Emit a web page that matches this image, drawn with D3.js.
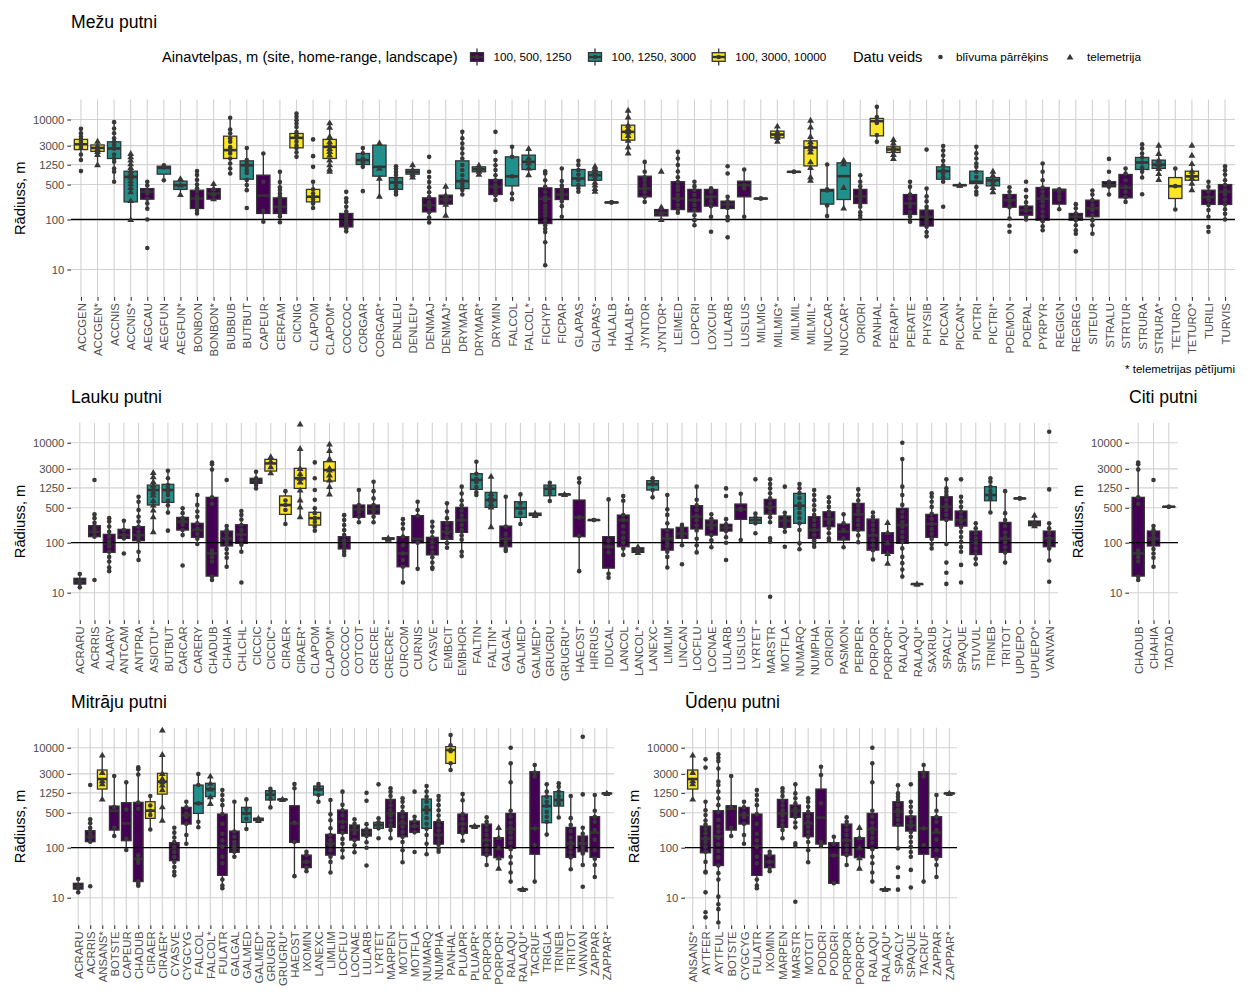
<!DOCTYPE html>
<html><head><meta charset="utf-8">
<script src="https://cdn.jsdelivr.net/npm/d3@7"></script>
<style>
body{margin:0;background:#fff}
svg{display:block}
text{font-family:"Liberation Sans",Arial,Helvetica,sans-serif}
</style>
</head><body>
<svg id="chart" width="1250" height="1000"></svg>
<script>
// ---------------- DATA ----------------
const yTicks = [10, 100, 500, 1250, 3000, 10000];
const groupLabels = ["100, 500, 1250", "100, 1250, 3000", "100, 3000, 10000"];
const typeLabels = ["blīvuma pārrēķins", "telemetrija"];

// Mežu putni
const mezuCats = ["ACCGEN","ACCGEN*","ACCNIS","ACCNIS*","AEGCAU","AEGFUN","AEGFUN*","BONBON","BONBON*","BUBBUB","BUTBUT","CAPEUR","CERFAM","CICNIG","CLAPOM","CLAPOM*","COCCOC","CORGAR","CORGAR*","DENLEU","DENLEU*","DENMAJ","DENMAJ*","DRYMAR","DRYMAR*","DRYMIN","FALCOL","FALCOL*","FICHYP","FICPAR","GLAPAS","GLAPAS*","HALALB","HALALB*","JYNTOR","JYNTOR*","LEIMED","LOPCRI","LOXCUR","LULARB","LUSLUS","MILMIG","MILMIG*","MILMIL","MILMIL*","NUCCAR","NUCCAR*","ORIORI","PANHAL","PERAPI*","PERATE","PHYSIB","PICCAN","PICCAN*","PICTRI","PICTRI*","POEMON","POEPAL","PYRPYR","REGIGN","REGREG","SITEUR","STRALU","STRTUR","STRURA","STRURA*","TETURO","TETURO*","TURILI","TURVIS"];
const mezuGroups = [2,2,1,1,0,1,1,0,0,2,1,0,0,2,2,2,0,1,1,1,1,0,0,1,1,0,1,1,0,0,1,1,0,2,0,0,0,0,0,0,0,0,2,0,2,1,1,0,2,2,0,0,1,1,1,1,0,0,0,0,0,0,0,0,1,1,2,2,0,0];
const mezuBox = [[1550,2500,3200,4000,6500],[1250,2300,2700,3100,3700],[570,1660,2630,3580,8850],[100,225,710,925,2100],[165,255,357,415,570],[610,807,1080,1165,1220],[316,400,486,585,660],[132,166,263,386,930],[255,255,330,415,525],[830,1660,2440,4640,10800],[386,640,1220,1490,2700],[90,132,300,770,2090],[88,132,179,271,900],[1790,2710,4300,5250,13200],[170,225,285,400,570],[925,1660,2840,4000,8600],[58,71,100,132,225],[1130,1260,1540,2090,2700],[293,735,1130,3070,3400],[316,400,550,690,1165],[710,807,900,1000,1250],[87,142,194,271,710],[122,203,255,307,464],[316,415,585,1490,5660],[810,900,1015,1130,1220],[245,316,450,630,1540],[255,470,730,1790,2840],[790,1000,1420,1940,2640],[12.2,83,260,430,925],[113,251,316,415,1050],[360,470,660,1000,1490],[370,610,770,900,1165],[220,220,220,220,220],[2150,3860,5660,7700,15400],[225,284,415,735,1420],[100,118,136,158,179],[136,158,263,570,2250],[77,142,244,400,570],[113,185,284,400,420],[113,166,200,233,284],[113,284,486,585,1000],[263,263,263,263,263],[3700,4300,5000,5850,7400],[900,900,900,900,900],[610,1180,2750,3740,9700],[117,203,380,400,1260],[170,251,735,1360,1540],[105,209,290,400,770],[3570,4710,9270,10500,17900],[1660,2190,2510,2840,4000],[90,126,209,316,570],[46,74,113,154,415],[570,640,925,1130,2950],[486,486,486,486,486],[316,525,567,925,2840],[360,470,610,690,925],[105,176,244,316,440],[100,122,154,185,284],[61,97,260,437,1320],[160,203,390,400,400],[52,97,113,132,203],[52,113,167,244,380],[316,450,486,570,570],[225,271,437,795,1050],[690,1000,1380,1740,3200],[630,1050,1250,1540,3070],[158,263,464,690,1050],[395,610,730,925,1320],[113,200,280,386,570],[100,200,360,500,1165]];
const mezuPts = [[6500,5300,4500,4000,3600,3300,3000,2700,2000,1550,930],[3700,3000,2600,2300,2000,1250],[8850,6600,5300,4200,3600,3100,2600,2000,1660,1430,1050,900,570],[2100,1800,1550,1300,1100,950,830,700,600,520,440,360,240,100],[570,480,380,330,260,210,165,100,27],[1220,1100,610],[660,490,316],[930,780,620,500,420,360,290,250,215,185,150,132],[525,420,330,260],[10800,6300,5300,4200,3600,2800,2440,2100,1660,1320,1050,830],[2700,1550,1300,1150,980,850,620,490,386,170],[2090,570,150,90],[900,560,440,390,330,290,250,215,180,155,132,115,88],[13200,11300,9700,8300,7100,5600,4800,4300,3600,3000,2700,2200,1790],[4000,1850,1130,570,400,330,285,250,210,170],[8600,7000,4600,3600,3100,2650,2300,1950,1550,1250,1030,925],[357,265,225,180,145,120,105,90,78,67,58],[2700,2100,1650,1400,1130,370],[3400,1060,670,293],[1165,1050,900,780,660,570,490,420,360,316],[1250,980,810,710],[1790,900,710,560,440,350,280,220,175,140,110,87],[464,307,250,203,122],[5660,4200,3300,2640,2090,1660,1230,980,770,610,520,450,390,316],[1220,1050,930,810],[5660,2250,1540,1220,980,770,610,490,420,360,306,245],[2840,1790,730,330,255],[2640,1700,1350,1080,790],[925,830,610,450,355,280,240,190,165,140,120,95,77,65,56,35,12.2],[1050,590,480,415,360,310,270,230,185,113],[1490,1230,980,790,620,490,420,360],[1165,1050,900,770,660,560,490,420,370],[220,220],[15400,11300,7700,6600,5660,4800,3860,2840,2150],[1420,900,700,600,490,415,360,284,225],[925,179,136,100],[2250,1660,1230,910,700,570,460,390,310,245,195,158,136],[570,464,390,310,244,195,155,122,97,77],[420,360,284,230,185,113,57],[1160,830,284,230,200,170,113,97,44],[1000,486,420,113],[263,263],[7400,5700,5000,4400,3700],[900,900],[9700,7100,4600,3600,3100,2600,2250,1430,1100,710,610],[1260,400,380,190,117],[1540,1300,440,170],[770,570,464,390,330,290,250,210,180,140,120,105],[17900,11200,9270,8500,4900,3570],[4000,3400,2840,2400,2000,1660],[570,450,316,263,209,180,141,113,90],[2500,415,290,230,180,154,132,113,97,84,72,56,46],[2950,2400,1900,1500,1200,960,830,700,570,180],[486,486],[2840,2100,1660,1320,1130,900,710,567,440,360,316],[925,770,610,525,440,360],[440,360,290,230,185,176,105,75,57],[570,386,284,220,180,150,115,100],[1320,900,610,437,360,290,230,185,145,115,92,73,61],[400,360,290,250,160],[203,167,132,113,97,77,61,52,23],[380,316,244,195,155,122,97,77,52],[1630,900,570,486,450,316],[1050,830,610,450,360,280,225],[3200,2640,2090,1740,1380,1100,900,690,320],[3070,2100,1540,1250,1050,830,630],[1050,464,158],[3070,1940,1320,925,770,670,530,395],[570,450,360,280,245,195,155,113,71,57],[1165,970,790,610,490,390,316,250,200,160,130,100]];

// Lauku putni
const laukuCats = ["ACRARU","ACRRIS","ALAARV","ANTCAM","ANTPRA","ASIOTU*","BUTBUT","CARCAR","CARERY","CHADUB","CHAHIA","CHLCHL","CICCIC","CICCIC*","CIRAER","CIRAER*","CLAPOM","CLAPOM*","COCCOC","COTCOT","CRECRE","CRECRE*","CURCOM","CURNIS","CYASVE","EMBCIT","EMBHOR","FALTIN","FALTIN*","GALGAL","GALMED","GALMED*","GRUGRU","GRUGRU*","HAEOST","HIRRUS","IDUCAL","LANCOL","LANCOL*","LANEXC","LIMLIM","LINCAN","LOCFLU","LOCNAE","LULARB","LUSLUS","LYRTET","MARSTR","MOTFLA","NUMARQ","NUMPHA","ORIORI","PASMON","PERPER","PORPOR","PORPOR*","RALAQU","RALAQU*","SAXRUB","SPACLY","SPAQUE","STUVUL","TRINEB","TRITOT","UPUEPO","UPUEPO*","VANVAN"];
const laukuGroups = [0,0,0,0,0,1,1,0,0,0,0,0,0,2,2,2,2,2,0,0,0,0,0,0,0,0,0,1,1,0,1,0,1,0,0,0,0,0,0,1,0,0,0,0,0,0,1,0,0,1,0,0,0,0,0,0,0,0,0,0,0,0,1,0,0,0,0];
const laukuBox = [[12.8,14.9,17,19.4,23.6],[132,132,166,219,369],[27,64,97,147,310],[122,122,142,185,275],[45,110,142,209,830],[166,567,1130,1420,2550],[400,640,1130,1470,2750],[142,179,263,321,486],[94,128,180,244,900],[18,21.5,61,807,4000],[33,86,122,171,215],[66,97,145,229,430],[1220,1540,1740,1940,2630],[2510,2710,3850,4640,5250],[237,369,567,860,1075],[330,1220,1940,3070,7700],[174,225,310,405,486],[940,1710,2840,4170,9400],[57,75,102,132,356],[256,321,464,567,1130],[256,374,464,567,1660],[118,118,120,125,125],[16,33,61,132,296],[30,100,120,347,660],[30,57,100,128,263],[79,117,166,263,612],[54,161,283,509,1320],[900,1165,1790,2400,4170],[209,509,713,1015,2150],[68,83,120,215,830],[237,321,490,660,925],[350,350,370,390,390],[680,870,1200,1420,1585],[925,925,925,925,925],[27,132,321,713,1940],[284,284,284,284,284],[20,31,83,132,735],[57,83,284,357,857],[64,64,70,79,84],[807,1130,1470,1740,1940],[32,71,122,188,900],[89,122,152,203,227],[64,188,331,550,1320],[81,142,226,284,369],[128,171,200,233,296],[113,293,464,593,950],[244,244,284,321,385],[256,374,520,735,1850],[166,203,275,341,398],[74,244,550,970,1490],[83,122,180,331,1130],[110,209,296,415,807],[81,113,166,236,369],[102,174,369,612,1165],[46,71,140,297,403],[39,61,100,158,255],[21,97,226,486,4700],[14.9,14.9,14.9,14.9,14.9],[77,128,237,369,970],[94,284,524,830,1850],[66,215,283,430,830],[37,58,100,171,244],[403,690,900,1320,1940],[40,64,120,255,1075],[770,770,770,770,770],[219,219,240,271,357],[44,83,122,171,244]];
const laukuPts = [[23.6,17.5,15.5,12.8],[1790,369,310,250,215,185,160,132,18],[310,265,210,165,132,105,84,66,52,42,32,27],[275,180,142,122,61],[830,660,450,330,265,209,165,130,110,66,45],[2550,2090,1660,1420,1200,1030,900,700,567,450,330,166],[2750,1940,1420,1200,1030,900,700,560,400,174],[486,390,310,263,230,180,142,35],[900,570,420,330,244,190,150,120,94],[4000,3700,2900,807,600,70,61,51,42,21,18],[1790,215,180,155,130,115,95,75,61,50,33],[430,360,290,225,180,145,115,91,66,16],[2630,1940,1700,1430,1220],[5250,4200,3300,2510],[1075,700,567,450,237],[23600,7700,3070,2400,2000,1940,1650,1130,720,520,330],[4040,1940,1130,720,486,390,310,260,210,174],[9400,7000,4800,3100,2840,2270,1800,1330,940],[356,285,225,180,142,112,94,77,66,57],[1130,567,470,410,330,256],[1660,1075,770,567,480,420,330,256],[125,120,118],[296,240,190,132,89,61,45,33,16],[660,450,347,100,30],[263,210,166,128,102,81,64,51,40,32,30],[612,420,310,245,195,155,123,98,79],[1320,960,700,560,440,350,283,225,180,140,115,66,54],[4170,2400,1900,1620,1290,1020,900],[2150,970,830,713,610,520,209],[830,210,150,120,103,88,75,68],[925,610,490,390,237],[390,370,350],[1585,1330,1150,980,680],[925,925],[1940,1600,321,136,27],[284,284],[735,110,83,64,24,20],[857,690,357,284,214,160,125,100,77,57],[84,70,64],[1940,1660,1470,1130,807],[900,464,360,244,180,142,117,97,83,66,52,32],[227,203,180,152,130,89,37],[1320,720,560,450,350,280,220,175,120,89,64],[369,300,265,226,195,142,112,81],[1220,857,296,233,200,171,128,100,45],[950,480,450,113],[1850,385,321,284,244,154],[1850,1490,1220,970,770,610,490,390,321,256,122,105,8.3],[1320,398,330,280,240,203,166,83],[1490,1230,980,780,610,490,390,310,245,180,97,74],[1130,900,710,560,450,360,283,225,180,142,112,97,83],[807,650,520,415,360,283,245,195,155,123,110],[369,244,180,122,81],[1165,900,700,550,440,369,283,225,180,140,102],[403,330,285,225,180,142,112,89,71,46],[255,160,100,61,39],[10000,4700,1320,900,570,415,330,260,210,165,130,104,77,52,39,29,21],[14.9,14.9],[970,830,660,520,380,300,237,188,150,119,94,77],[1850,1220,1050,900,720,570,450,360,284,94,40,25,15],[1850,830,660,520,415,330,262,207,165,130,104,82,66,36,16],[244,195,155,122,97,77,61,48,37],[1940,1660,1320,1080,900,760,403],[1075,390,283,215,160,128,102,81,64,40],[770,770],[357,260,240,219],[16600,1165,244,195,155,122,105,90,77,44,16.6]];

// Citi putni
const citiCats = ["CHADUB","CHAHIA","TADTAD"];
const citiGroups = [0,0,0];
const citiBox = [[18,21.5,61,807,4000],[33,86,122,171,215],[525,525,525,525,525]];
const citiPts = [[4000,3700,2900,807,600,70,61,51,42,21,18],[1790,215,180,155,130,115,95,75,61,50,33],[525,525]];

// Mitrāju putni
const mitrCats = ["ACRARU","ACRRIS","ANSANS*","BOTSTE","CAPEUR","CHADUB","CIRAER","CIRAER*","CYASVE","CYGCYG","FALCOL","FALCOL*","FULATR","GALGAL","GALMED","GALMED*","GRUGRU","GRUGRU*","HAEOST","IXOMIN","LANEXC","LIMLIM","LOCFLU","LOCNAE","LULARB","LYRTET","MARPEN","MOTCIT","MOTFLA","NUMARQ","NUMPHA","PANHAL","PLUAPR","PLUAPR*","PORPOR","PORPOR*","RALAQU","RALAQU*","TACRUF","TRIGLA","TRINEB","TRITOT","VANVAN","ZAPPAR","ZAPPAR*"];
const mitrGroups = [0,0,2,0,0,0,2,2,0,0,1,1,0,0,1,0,1,0,0,0,1,0,0,0,0,1,0,0,0,1,0,2,0,0,0,0,0,0,0,1,1,0,0,0,0];
const mitrBox = [[12.8,14.9,17,19.4,23.6],[132,132,166,219,369],[940,1490,2360,3580,7130],[171,225,550,680,2710],[90,138,307,795,2030],[17.4,21,60,807,4040],[232,386,550,830,1080],[357,1180,2090,3070,7350],[28,55,98,126,251],[120,297,450,640,830],[256,486,770,1790,2970],[770,1050,1490,1940,2710],[15.4,28,105,471,1420],[66,81,100,215,830],[237,321,486,640,925],[350,350,370,390,390],[640,900,1150,1380,1500],[925,925,925,925,925],[27,128,307,690,1875],[34,40,52,71,83],[830,1130,1470,1710,1875],[32,71,122,185,900],[64,194,330,567,1320],[81,142,226,284,369],[128,171,200,233,296],[244,244,284,321,386],[154,255,486,925,1540],[51,166,307,500,970],[203,203,270,341,415],[74,244,570,940,1710],[83,118,180,331,1080],[3580,4860,8980,10500,17900],[138,194,300,471,1180],[265,265,270,275,275],[45,71,140,297,405],[39,63,100,158,255],[21,97,233,486,4860],[14.7,14.7,14.7,14.7,14.7],[21,74,244,3310,4500],[183,316,680,1080,1850],[403,680,900,1320,1940],[37,64,120,255,1080],[45,83,122,171,250],[26,64,200,417,1130],[1220,1220,1220,1220,1220]];
const mitrPts = [[23.6,17.5,15.5,12.8],[1790,369,310,250,215,185,160,132,17],[7130,3200,2200,1900,940],[2710,650,250,171],[2030,580,150,90],[4040,3700,2900,800,600,71,58,50,21,19,17.4],[1080,700,550,450,232],[22600,7350,3070,2400,2090,1800,1450,660,357],[251,200,160,130,103,82,65,52,41,33,28],[830,640,480,410,300,180,120],[2970,1790,770,330,256],[2710,1940,1490,1050,770],[1420,1130,900,710,470,300,190,140,105,66,49,23,17.5,15.4],[830,210,165,130,110,95,83,66],[925,600,486,380,237],[390,370,350],[1500,1330,1150,950,640],[925,925],[1875,1550,320,130,27],[83,72,52,40,34],[1875,1660,1470,1130,830],[900,464,355,245,180,142,113,89,66,52,32],[1320,720,560,440,330,260,200,150,120,89,64],[369,300,265,226,195,142,112,81],[1250,870,296,233,200,171,128,100,44],[1850,386,321,284,244,154],[1540,1310,1080,870,700,560,440,350,280,225,154],[970,830,660,520,415,330,262,207,165,130,89,51],[1320,415,340,270,203,82],[1710,1330,1050,830,640,500,390,300,240,180,120,74],[1080,900,710,560,440,350,280,220,175,140,115,95,83],[17900,11200,8980,8500,4900,3580],[1180,890,470,380,300,240,194,138],[275,270,265],[405,330,285,225,180,142,112,89,71,45],[255,160,100,63,39],[10000,4860,2030,550,420,315,250,200,158,126,93,66,49,32,21],[14.7,14.7],[4500,3200,2650,244,113,21],[1850,1320,1050,830,680,520,415,330,183],[1940,1660,1320,1080,900,760,403],[1080,390,283,215,160,128,102,81,64,37],[16600,1165,250,190,150,122,100,86,77,45,16.6],[1130,550,417,330,225,145,89,60,45,26],[1220,1220]];

// Ūdeņu putni
const udenCats = ["ANSANS*","AYTFER","AYTFUL","BOTSTE","CYGCYG","FULATR","IXOMIN","MARPEN","MARSTR","MOTCIT","PODCRI","PODGRI","PORPOR","PORPOR*","RALAQU","RALAQU*","SPACLY","SPAQUE","TACRUF","ZAPPAR","ZAPPAR*"];
const udenGroups = [2,0,0,0,0,0,0,0,0,0,0,0,0,0,0,0,0,0,0,0,0];
const udenBox = [[940,1490,2360,3580,7130],[32,79,150,271,830],[3.2,44,170,550,7360],[171,225,600,690,2710],[120,297,450,640,830],[15.4,28,105,471,1420],[34,40,52,71,83],[154,255,486,925,1540],[255,405,550,713,1850],[51,166,307,500,970],[110,118,400,1490,4170],[19.4,19.4,70,126,166],[45,71,140,297,405],[39,63,100,158,255],[21,97,233,486,4860],[14.7,14.7,14.7,14.7,14.7],[94,271,524,830,1780],[66,215,283,430,830],[21,74,244,3310,4500],[26,64,200,417,1130],[1220,1220,1220,1220,1220]];
const udenPts = [[7130,3200,2200,1900,940],[5850,4000,830,560,450,350,290,240,195,158,130,105,83,52,33,32,12.8,5.1,4.05],[7360,6300,5400,3850,2100,1800,1320,970,710,520,360,265,210,158,117,86,64,44,31,23,10.5,7.4,5.9,3.2],[2710,650,250,171],[830,640,480,410,300,180,120],[1420,1130,900,710,470,300,190,140,105,66,49,23,17.5,15.4],[83,72,52,40,34],[1540,1310,1080,870,700,560,440,350,280,225,154],[1850,1220,970,770,600,500,410,320,255,122,108,8.3],[970,830,660,520,415,330,262,207,165,130,89,51],[4170,2840,775,130,110],[166,120,70,19.4],[405,330,285,225,180,142,112,89,71,45],[255,160,100,63,39],[10000,4860,2030,550,420,315,250,200,158,126,93,66,49,32,21],[14.7,14.7],[1780,1220,1050,900,720,570,450,360,284,97,40,26,14.5],[1850,830,660,520,415,330,262,207,165,130,104,82,66,36,16],[4500,3200,2650,244,113,21],[1130,550,417,330,225,145,89,60,45,26],[1220,1220]];

// ---------------- STYLE / LAYOUT ----------------
const COLORS = ["#440154", "#21908C", "#FDE725"];
const FONT = '"Liberation Sans", Arial, Helvetica, sans-serif';
const Y_DOMAIN = [Math.pow(10, 0.45), Math.pow(10, 4.4)];

const panels = [
  {title:"Mežu putni", cats:mezuCats, groups:mezuGroups, box:mezuBox, pts:mezuPts, x0:71, x1:1235, yTop:99.5, yBot:297, titleY:28},
  {title:"Lauku putni", cats:laukuCats, groups:laukuGroups, box:laukuBox, pts:laukuPts, x0:71, x1:1058, yTop:422.7, yBot:620.2, titleY:403},
  {title:"Citi putni", cats:citiCats, groups:citiGroups, box:citiBox, pts:citiPts, x0:1129, x1:1178, yTop:422.7, yBot:620.2, titleY:403},
  {title:"Mitrāju putni", cats:mitrCats, groups:mitrGroups, box:mitrBox, pts:mitrPts, x0:71, x1:614, yTop:727.7, yBot:925.2, titleY:708},
  {title:"Ūdeņu putni", cats:udenCats, groups:udenGroups, box:udenBox, pts:udenPts, x0:685, x1:957, yTop:727.7, yBot:925.2, titleY:708}
];

const svg = d3.select("#chart");
svg.append("rect").attr("width",1250).attr("height",1000).attr("fill","#fff");

const tri = d3.symbol().type(d3.symbolTriangle).size(20);

function drawPanel(p) {
  const g = svg.append("g");
  const x = d3.scalePoint().domain(p.cats).range([p.x0, p.x1]).padding(0.6);
  const y = d3.scaleLog().domain(Y_DOMAIN).range([p.yBot, p.yTop]);
  const bw = x.step() * 0.8;

  // grid
  g.append("g").selectAll("line").data(yTicks).join("line")
    .attr("x1", p.x0).attr("x2", p.x1)
    .attr("y1", d => y(d)).attr("y2", d => y(d))
    .attr("stroke", "#d2d2d2").attr("stroke-width", 1.1);
  g.append("g").selectAll("line").data(p.cats).join("line")
    .attr("x1", d => x(d)).attr("x2", d => x(d))
    .attr("y1", p.yTop).attr("y2", p.yBot)
    .attr("stroke", "#d2d2d2").attr("stroke-width", 1.1);

  // axes
  const ay = g.append("g").attr("transform", `translate(${p.x0},0)`)
    .call(d3.axisLeft(y).tickValues(yTicks).tickFormat(d3.format("d")).tickSize(3.7).tickPadding(3));
  ay.select(".domain").remove();
  ay.selectAll(".tick line").attr("stroke", "#333").attr("stroke-width", 1.1);
  ay.selectAll(".tick text").attr("fill", "#4d4d4d").style("font-size", "11.3px").style("font-family", FONT);

  const ax = g.append("g").attr("transform", `translate(0,${p.yBot})`)
    .call(d3.axisBottom(x).tickSize(3.7));
  ax.select(".domain").remove();
  ax.selectAll(".tick line").attr("stroke", "#333").attr("stroke-width", 1.1);
  ax.selectAll(".tick text")
    .attr("transform", "rotate(-90)")
    .attr("x", -6.2).attr("y", 0).attr("dy", "0.36em")
    .style("text-anchor", "end")
    .attr("fill", "#4d4d4d").style("font-size", "11.3px").style("font-family", FONT);

  // y title
  g.append("text")
    .attr("transform", `translate(${p.x0 - 51},${(p.yTop + p.yBot) / 2}) rotate(-90)`)
    .attr("text-anchor", "middle").attr("dy", "0.35em")
    .style("font-size", "14.7px").attr("fill", "#000").text("Rādiuss, m");

  // panel title
  g.append("text").attr("x", p.x0).attr("y", p.titleY)
    .style("font-size", "17.6px").attr("fill", "#000").text(p.title);

  // boxes
  const bg = g.append("g");
  p.cats.forEach((c, i) => {
    const [lo, q1, med, q3, hi] = p.box[i];
    const cx = x(c);
    bg.append("line").attr("x1", cx).attr("x2", cx).attr("y1", y(lo)).attr("y2", y(q1))
      .attr("stroke", "#333").attr("stroke-width", 1.3);
    bg.append("line").attr("x1", cx).attr("x2", cx).attr("y1", y(q3)).attr("y2", y(hi))
      .attr("stroke", "#333").attr("stroke-width", 1.3);
    bg.append("rect").attr("x", cx - bw / 2).attr("width", bw)
      .attr("y", y(q3)).attr("height", Math.max(y(q1) - y(q3), 0.4))
      .attr("fill", COLORS[p.groups[i]]).attr("stroke", "#333").attr("stroke-width", 1.3);
    bg.append("line").attr("x1", cx - bw / 2).attr("x2", cx + bw / 2).attr("y1", y(med)).attr("y2", y(med))
      .attr("stroke", "#333").attr("stroke-width", 2.6);
  });

  // reference line at 100
  g.append("line").attr("x1", p.x0).attr("x2", p.x1).attr("y1", y(100)).attr("y2", y(100))
    .attr("stroke", "#000").attr("stroke-width", 1.3);

  // points
  const pg = g.append("g");
  p.cats.forEach((c, i) => {
    const isTel = c.endsWith("*");
    p.pts[i].forEach(v => {
      if (isTel) {
        pg.append("path").attr("d", tri).attr("transform", `translate(${x(c)},${y(v) + 0.6})`)
          .attr("fill", "#383838");
      } else {
        pg.append("circle").attr("cx", x(c)).attr("cy", y(v)).attr("r", 2.3).attr("fill", "#383838");
      }
    });
  });
}

panels.forEach(drawPanel);

// footnote
svg.append("text").attr("x", 1235).attr("y", 373).attr("text-anchor", "end")
  .style("font-size", "11.5px").attr("fill", "#000").text("* telemetrijas pētījumi");

// legend
const lg = svg.append("g");
const legY = 57;
lg.append("text").attr("x", 162).attr("y", legY).attr("dy", "0.35em")
  .style("font-size", "14.7px").text("Ainavtelpas, m (site, home-range, landscape)");
const keyX = [477, 595, 718.7];
groupLabels.forEach((lab, i) => {
  const kx = keyX[i];
  lg.append("line").attr("x1", kx).attr("x2", kx).attr("y1", legY - 8.6).attr("y2", legY + 8.6)
    .attr("stroke", "#333").attr("stroke-width", 1.3);
  lg.append("rect").attr("x", kx - 6.5).attr("y", legY - 4.3).attr("width", 13).attr("height", 8.6)
    .attr("fill", COLORS[i]).attr("stroke", "#333").attr("stroke-width", 1.3);
  lg.append("line").attr("x1", kx - 6.5).attr("x2", kx + 6.5).attr("y1", legY).attr("y2", legY)
    .attr("stroke", "#333").attr("stroke-width", 2.4);
  lg.append("circle").attr("cx", kx).attr("cy", legY).attr("r", 2.3).attr("fill", "#383838");
  lg.append("text").attr("x", kx + 16.5).attr("y", legY).attr("dy", "0.35em")
    .style("font-size", "11.7px").text(lab);
});
lg.append("text").attr("x", 853).attr("y", legY).attr("dy", "0.35em")
  .style("font-size", "14.7px").text("Datu veids");
lg.append("circle").attr("cx", 940.5).attr("cy", legY).attr("r", 2.3).attr("fill", "#383838");
lg.append("text").attr("x", 956).attr("y", legY).attr("dy", "0.35em")
  .style("font-size", "11.7px").text(typeLabels[0]);
lg.append("path").attr("d", tri).attr("transform", `translate(1070,${legY + 0.6})`).attr("fill", "#383838");
lg.append("text").attr("x", 1087).attr("y", legY).attr("dy", "0.35em")
  .style("font-size", "11.7px").text(typeLabels[1]);
</script>
</body></html>
